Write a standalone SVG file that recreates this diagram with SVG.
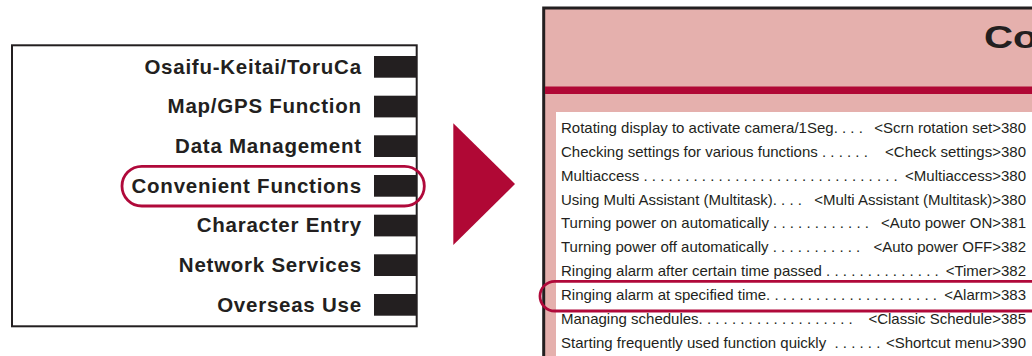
<svg xmlns="http://www.w3.org/2000/svg" width="1032" height="356" viewBox="0 0 1032 356">
<style>
.menu{font-family:"Liberation Sans",Arial,Helvetica,sans-serif;font-weight:bold;font-size:20.5px;letter-spacing:0.75px;fill:#231f20;text-anchor:end}
.bar{fill:#231f20}
.hl{fill:none;stroke:#b0093a;stroke-width:2.8}
.li{font-family:"Liberation Sans",Arial,Helvetica,sans-serif;font-size:15px;fill:#231f20;white-space:pre}
.ri{font-family:"Liberation Sans",Arial,Helvetica,sans-serif;font-size:15px;fill:#231f20;text-anchor:end}
</style>
<rect width="1032" height="356" fill="#ffffff"/>
<g id="menu-panel">
<rect x="12" y="45.3" width="404.7" height="281" fill="#ffffff" stroke="#231f20" stroke-width="2"/>
<g id="item-osaifu"><rect class="bar" x="374" y="56" width="43" height="21.7"/><text class="menu" x="361.8" y="73.5">Osaifu-Keitai/ToruCa</text></g>
<g id="item-map"><rect class="bar" x="374" y="95.7" width="43" height="21.7"/><text class="menu" x="361.8" y="113.2">Map/GPS Function</text></g>
<g id="item-data"><rect class="bar" x="374" y="135.3" width="43" height="21.7"/><text class="menu" x="361.8" y="152.8">Data Management</text></g>
<g id="item-convenient"><rect class="bar" x="374" y="175" width="43" height="21.7"/><text class="menu" x="361.8" y="192.5">Convenient Functions</text></g>
<g id="item-character"><rect class="bar" x="374" y="214.7" width="43" height="21.7"/><text class="menu" x="361.8" y="232.2">Character Entry</text></g>
<g id="item-network"><rect class="bar" x="374" y="254.3" width="43" height="21.7"/><text class="menu" x="361.8" y="271.8">Network Services</text></g>
<g id="item-overseas"><rect class="bar" x="374" y="294" width="43" height="21.7"/><text class="menu" x="361.8" y="311.5">Overseas Use</text></g>
<rect id="highlight-left" class="hl" x="122" y="166.3" width="302.3" height="39.7" rx="19.8"/>
</g>
<g id="connectors">
<polygon points="453.3,123.3 515,184 453.3,245" fill="#b00835"/>
</g>
<g id="page-panel">
<rect x="543.7" y="8" width="520" height="360" fill="#e5b0ad" stroke="#231f20" stroke-width="3"/>
<text transform="translate(984,48) scale(1.3,1)" style="font-family:'Liberation Sans',Arial,Helvetica,sans-serif;font-weight:bold;font-size:31px;fill:#231f20">Co</text>
<rect x="545" y="86.5" width="487" height="7.5" fill="#b00835"/>
<rect x="556" y="112" width="476" height="244" fill="#ffffff"/>
<g id="list">
<text class="li" x="561" y="132.8" xml:space="preserve">Rotating display to activate camera/1Seg. . . . </text><text class="ri" x="1026" y="132.8">&lt;Scrn rotation set&gt;380</text>
<text class="li" x="561" y="156.7" xml:space="preserve">Checking settings for various functions . . . . . . </text><text class="ri" x="1026" y="156.7">&lt;Check settings&gt;380</text>
<text class="li" x="561" y="180.6" xml:space="preserve">Multiaccess . . . . . . . . . . . . . . . . . . . . . . . . . . . . . . .</text><text class="ri" x="1026" y="180.6">&lt;Multiaccess&gt;380</text>
<text class="li" x="561" y="204.5" xml:space="preserve">Using Multi Assistant (Multitask). . . .</text><text class="ri" x="1026" y="204.5">&lt;Multi Assistant (Multitask)&gt;380</text>
<text class="li" x="561" y="228.4" xml:space="preserve">Turning power on automatically . . . . . . . . . . . .</text><text class="ri" x="1026" y="228.4">&lt;Auto power ON&gt;381</text>
<text class="li" x="561" y="252.3" xml:space="preserve">Turning power off automatically . . . . . . . . . . .</text><text class="ri" x="1026" y="252.3">&lt;Auto power OFF&gt;382</text>
<text class="li" x="561" y="276.2" xml:space="preserve">Ringing alarm after certain time passed . . . . . . . . . . . . . .</text><text class="ri" x="1026" y="276.2">&lt;Timer&gt;382</text>
<text class="li" x="561" y="300.1" xml:space="preserve">Ringing alarm at specified time. . . . . . . . . . . . . . . . . . . . .</text><text class="ri" x="1026" y="300.1">&lt;Alarm&gt;383</text>
<text class="li" x="561" y="324" xml:space="preserve">Managing schedules. . . . . . . . . . . . . . . . . . .</text><text class="ri" x="1026" y="324">&lt;Classic Schedule&gt;385</text>
<text class="li" x="561" y="347.9" xml:space="preserve">Starting frequently used function quickly  . . . . . .</text><text class="ri" x="1026" y="347.9">&lt;Shortcut menu&gt;390</text>
</g>
<rect id="highlight-right" class="hl" x="540" y="281.3" width="540" height="29.7" rx="14.8"/>
</g>
</svg>
